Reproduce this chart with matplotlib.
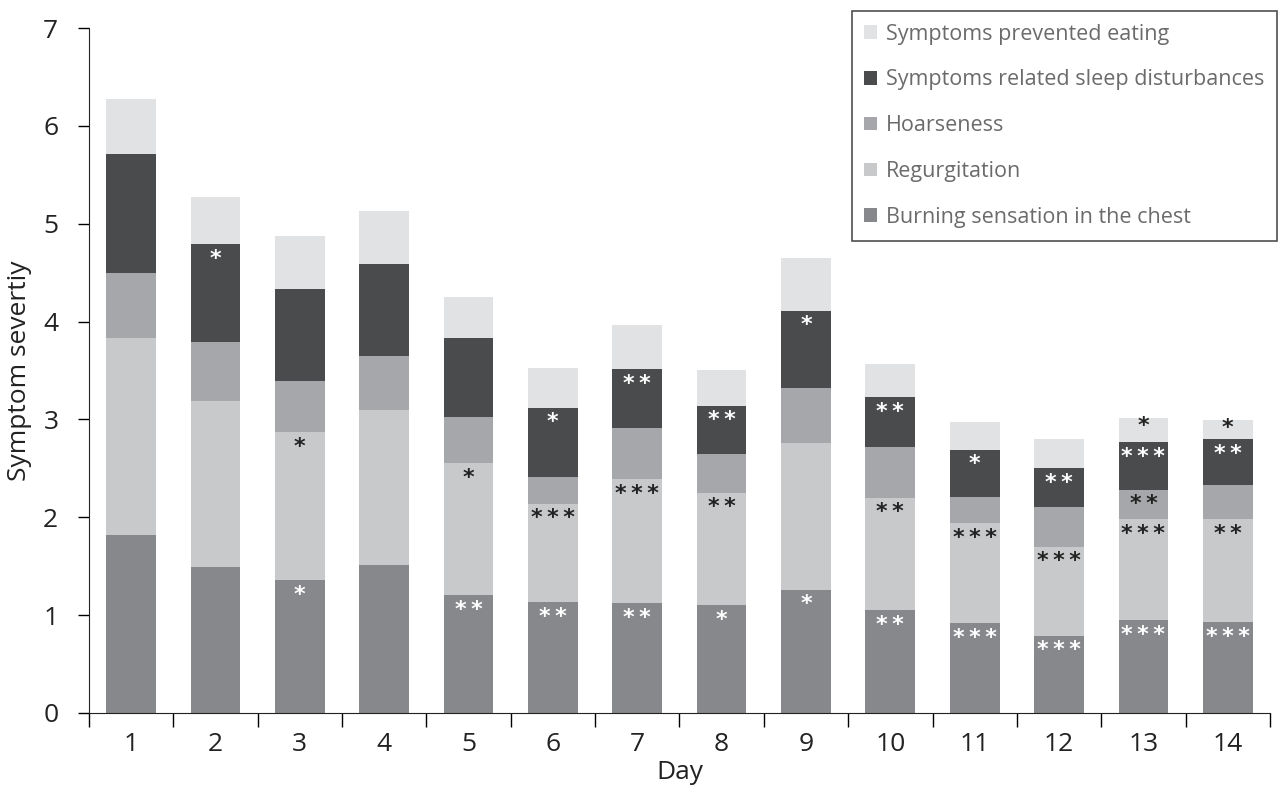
import numpy as np
import matplotlib.pyplot as plt

plt.rcParams['font.family'] = ['Open Sans', 'DejaVu Sans']

days = list(range(1, 15))

# segment heights, bottom to top
burning = [1.82, 1.49, 1.36, 1.51, 1.20, 1.13, 1.12, 1.10, 1.26, 1.05, 0.92, 0.79, 0.95, 0.93]
regurgitation = [2.01, 1.70, 1.51, 1.59, 1.35, 1.01, 1.27, 1.15, 1.50, 1.15, 1.02, 0.91, 1.03, 1.05]
hoarseness = [0.67, 0.60, 0.52, 0.55, 0.47, 0.27, 0.52, 0.40, 0.56, 0.52, 0.27, 0.40, 0.30, 0.35]
sleep = [1.21, 1.00, 0.94, 0.94, 0.81, 0.71, 0.60, 0.49, 0.79, 0.51, 0.48, 0.40, 0.49, 0.47]
eating = [0.56, 0.48, 0.54, 0.54, 0.42, 0.41, 0.45, 0.36, 0.54, 0.34, 0.28, 0.30, 0.24, 0.19]

# significance marks per segment ('' = none)
burning_sig = ['', '', '*', '', '**', '**', '**', '*', '*', '**', '***', '***', '***', '***']
regurgitation_sig = ['', '', '*', '', '*', '***', '***', '**', '', '**', '***', '***', '***', '**']
hoarseness_sig = ['', '', '', '', '', '', '', '', '', '', '', '', '**', '']
sleep_sig = ['', '*', '', '', '', '*', '**', '**', '*', '**', '*', '**', '***', '**']
eating_sig = ['', '', '', '', '', '', '', '', '', '', '', '', '*', '*']

series = [
    ('Burning sensation in the chest', burning, burning_sig, '#87888c', 'white'),
    ('Regurgitation', regurgitation, regurgitation_sig, '#c8c9cb', '#222222'),
    ('Hoarseness', hoarseness, hoarseness_sig, '#a6a7aa', '#222222'),
    ('Symptoms related sleep disturbances', sleep, sleep_sig, '#4a4b4d', 'white'),
    ('Symptoms prevented eating', eating, eating_sig, '#e1e2e4', '#222222'),
]

fig = plt.figure(figsize=(12.88, 8.01), dpi=100)
ax = fig.add_axes([0.069, 0.110, 0.917, 0.855])

x = np.array(days)
bottom = np.zeros(len(days))
handles = []
for name, vals, sig, color, tcol in series:
    vals = np.array(vals)
    b = ax.bar(x, vals, 0.59, bottom=bottom, color=color, label=name)
    handles.append(b)
    for xi, bi, vi, s in zip(x, bottom, vals, sig):
        if s:
            if name == 'Symptoms prevented eating':
                ty = bi + vi - 0.08
            else:
                ty = bi + vi - 0.15
            ax.text(xi, ty, '\u2009'.join(s), ha='center', va='center',
                    color=tcol, fontsize=16, fontweight='bold', family='DejaVu Sans')
    bottom = bottom + vals

ax.set_xlim(0.5, 14.5)
ax.set_ylim(0, 7)
ax.set_yticks(range(0, 8))
ax.set_xticks(days)
ax.set_xticks(np.arange(0.5, 15, 1), minor=True)
ax.tick_params(axis='x', which='major', length=0, pad=14, labelsize=19, labelcolor='#222222')
ax.tick_params(axis='x', which='minor', length=10, width=1, direction='out')
ax.tick_params(axis='y', length=8, width=1, direction='out', labelsize=19, pad=14, labelcolor='#222222')
for s in ['top', 'right']:
    ax.spines[s].set_visible(False)
for s in ['left', 'bottom']:
    ax.spines[s].set_color('#222222')

ax.set_xlabel('Day', fontsize=19, color='#222222', labelpad=2)
ax.set_ylabel('Symptom severtiy', fontsize=19, color='#222222', labelpad=8)

leg = fig.legend(handles[::-1], [h.get_label() for h in handles[::-1]],
                 loc='upper right', bbox_to_anchor=(1.0, 1.0), fontsize=15.5,
                 frameon=True, fancybox=False, handlelength=0.6, handleheight=0.6,
                 handletextpad=0.4, labelspacing=1.15, borderpad=0.6,
                 labelcolor='#6b6b6b')
leg.get_frame().set_edgecolor('#222222')
leg.get_frame().set_linewidth(1.2)

fig.savefig('out.png', dpi=100)
